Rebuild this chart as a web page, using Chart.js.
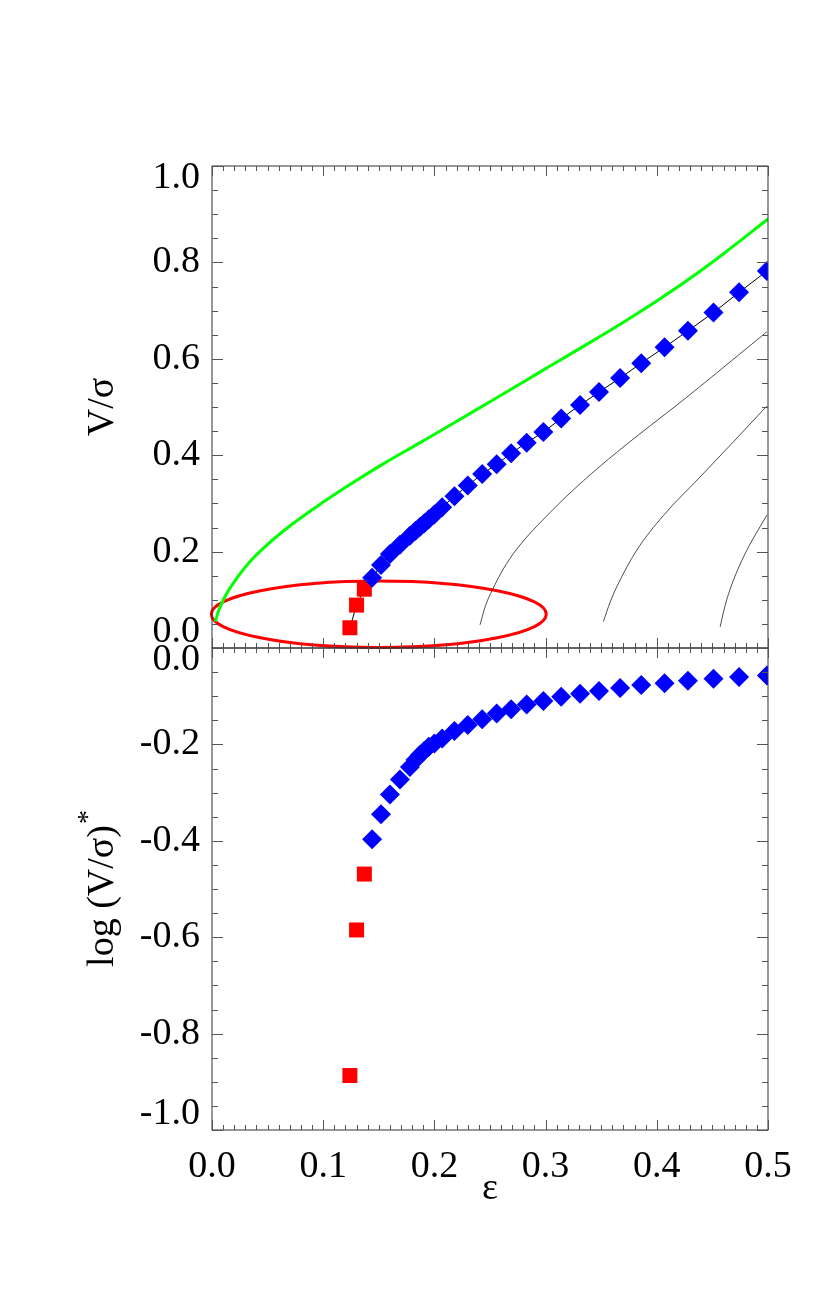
<!DOCTYPE html>
<html>
<head>
<meta charset="utf-8">
<script src="https://cdn.jsdelivr.net/npm/chart.js@4.4.0/dist/chart.umd.min.js"></script>
<style>
  html, body { margin: 0; padding: 0; background: #fff; }
  #wrap { width: 830px; height: 1298px; }
</style>
</head>
<body>
<div id="wrap"><canvas id="chart" width="830" height="1298"></canvas></div>
<script>
// values
const squareEps = [0.124, 0.130, 0.137];
const squareVs = [0.042, 0.089, 0.122];
const squareLogVs = [-0.887, -0.585, -0.469];

const diamondEps = [0.144, 0.152, 0.160, 0.169, 0.178, 0.183, 0.187, 0.191, 0.195, 0.200,
  0.207, 0.218, 0.230, 0.243, 0.256, 0.269, 0.283, 0.298, 0.314, 0.331,
  0.348, 0.367, 0.386, 0.407, 0.428, 0.451, 0.474, 0.499];
const diamondVs = [0.146, 0.172, 0.195, 0.214, 0.233, 0.243, 0.251, 0.259, 0.267, 0.277,
  0.292, 0.315, 0.337, 0.361, 0.381, 0.404, 0.426, 0.448, 0.476, 0.504,
  0.531, 0.560, 0.591, 0.624, 0.658, 0.696, 0.738, 0.782];
const diamondLogVs = [-0.397, -0.345, -0.304, -0.273, -0.247, -0.232, -0.222, -0.213, -0.205, -0.198,
  -0.188, -0.172, -0.160, -0.148, -0.136, -0.127, -0.117, -0.110, -0.101, -0.095,
  -0.089, -0.083, -0.077, -0.073, -0.068, -0.064, -0.060, -0.057];

// green curve
const isoEps = [0.003, 0.006, 0.013, 0.024, 0.034, 0.050, 0.070, 0.094, 0.124, 0.154, 0.184,
  0.214, 0.250, 0.280, 0.304, 0.340, 0.370, 0.400, 0.430, 0.460, 0.500];
const isoVs = [0.055, 0.078, 0.112, 0.150, 0.179, 0.215, 0.253, 0.293, 0.339, 0.382, 0.422,
  0.462, 0.511, 0.552, 0.585, 0.634, 0.676, 0.720, 0.767, 0.818, 0.890];

// thin black curves
const curve1Eps = [0.241, 0.246, 0.252, 0.262, 0.274, 0.304, 0.334, 0.364, 0.394, 0.423, 0.454, 0.499];
const curve1Vs = [0.048, 0.088, 0.120, 0.164, 0.205, 0.281, 0.347, 0.406, 0.461, 0.513, 0.571, 0.656];
const curve2Eps = [0.352, 0.358, 0.364, 0.382, 0.406, 0.439, 0.469, 0.499];
const curve2Vs = [0.055, 0.095, 0.127, 0.203, 0.275, 0.355, 0.428, 0.502];
const curve3Eps = [0.457, 0.460, 0.4646, 0.478, 0.499];
const curve3Vs = [0.044, 0.075, 0.113, 0.189, 0.276];

// red ellipse (centre and half axes, data units)
const ellipseCenter = [0.150, 0.070];
const ellipseRadius = [0.1506, 0.069];

// tick labels
const vTicks = [0.0, 0.2, 0.4, 0.6, 0.8, 1.0];
const vTickLabels = ["0.0", "0.2", "0.4", "0.6", "0.8", "1.0"];
const logTicks = [-1.0, -0.8, -0.6, -0.4, -0.2, 0.0];
const logTickLabels = ["-1.0", "-0.8", "-0.6", "-0.4", "-0.2", "0.0"];

const FONT = "'Liberation Serif', 'Times New Roman', serif";

const toPoints = (xs, ys) => xs.map((x, i) => ({x: x, y: ys[i]}));

// IDL style box: frame, inward minor/major ticks, y labels and titles
const idlFrame = {
  id: 'idlFrame',
  beforeDatasetsDraw(chart) {
    const ctx = chart.ctx;
    const xs = chart.scales.x, ys = chart.scales.y;
    const cx = xs.getPixelForValue(ellipseCenter[0]);
    const cy = ys.getPixelForValue(ellipseCenter[1]);
    const rx = xs.getPixelForValue(ellipseCenter[0] + ellipseRadius[0]) - cx;
    const ry = cy - ys.getPixelForValue(ellipseCenter[1] + ellipseRadius[1]);
    ctx.save();
    ctx.strokeStyle = '#ff0000';
    ctx.lineWidth = 3;
    ctx.beginPath();
    ctx.ellipse(cx, cy, rx, ry, 0, 0, Math.PI * 2);
    ctx.stroke();
    ctx.restore();
  },
  afterDraw(chart) {
    const ctx = chart.ctx;
    const xs = chart.scales.x;
    const panels = [
      {scale: chart.scales.y, ticks: vTicks, labels: vTickLabels},
      {scale: chart.scales.y2, ticks: logTicks, labels: logTickLabels}
    ];
    ctx.save();
    ctx.lineWidth = 1;
    panels.forEach(p => {
      const s = p.scale;
      ctx.strokeStyle = '#333';
      ctx.strokeRect(xs.left, s.top, xs.right - xs.left, s.bottom - s.top);
      ctx.strokeStyle = '#555';
      ctx.beginPath();
      for (let i = 0; i <= 50; i++) {
        const px = Math.round(xs.getPixelForValue(i / 100)) + 0.5;
        const len = i % 10 === 0 ? 10 : 5;
        ctx.moveTo(px, s.top); ctx.lineTo(px, s.top + len);
        ctx.moveTo(px, s.bottom); ctx.lineTo(px, s.bottom - len);
      }
      for (let j = 0; j <= 20; j++) {
        const py = Math.round(s.getPixelForValue(s.min + j * 0.05)) + 0.5;
        const len = j % 4 === 0 ? 11 : 6;
        ctx.moveTo(xs.left, py); ctx.lineTo(xs.left + len, py);
        ctx.moveTo(xs.right, py); ctx.lineTo(xs.right - len, py);
      }
      ctx.stroke();

      ctx.fillStyle = '#000';
      ctx.font = '38px ' + FONT;
      ctx.textAlign = 'right';
      ctx.textBaseline = 'middle';
      p.ticks.forEach((v, k) => {
        let py = s.getPixelForValue(v);
        if (k === p.ticks.length - 1) py += 12;
        if (k === 0) py -= 16;
        ctx.fillText(p.labels[k], xs.left - 12, py);
      });
    });

    // y titles
    const drawTitle = (main, sup, cy) => {
      ctx.save();
      ctx.translate(113, cy);
      ctx.rotate(-Math.PI / 2);
      ctx.textBaseline = 'alphabetic';
      ctx.textAlign = 'left';
      ctx.font = '38px ' + FONT;
      const w1 = ctx.measureText(main).width;
      let w2 = 0;
      if (sup) { ctx.font = '28px ' + FONT; w2 = ctx.measureText(sup).width; }
      const x0 = -(w1 + w2) / 2;
      ctx.font = '38px ' + FONT;
      ctx.fillText(main, x0, 0);
      if (sup) { ctx.font = '28px ' + FONT; ctx.fillText(sup, x0 + w1 + 1, -17); }
      ctx.restore();
    };
    const top = chart.scales.y, bot = chart.scales.y2;
    drawTitle('V/\u03c3', '', (top.top + top.bottom) / 2);
    drawTitle('log (V/\u03c3)', '*', (bot.top + bot.bottom) / 2);
    ctx.restore();
  }
};

const allEps = squareEps.concat(diamondEps);
const allVs = squareVs.concat(diamondVs);

new Chart(document.getElementById('chart'), {
  type: 'scatter',
  data: {
    datasets: [
      {label: 'diamonds top', data: toPoints(diamondEps, diamondVs), yAxisID: 'y', order: 1,
        pointStyle: 'rectRot', pointRadius: 10, backgroundColor: '#0000ff', borderWidth: 0},
      {label: 'squares top', data: toPoints(squareEps, squareVs), yAxisID: 'y', order: 2,
        pointStyle: 'rect', pointRadius: 10.6, backgroundColor: '#ff0000', borderWidth: 0},
      {label: 'diamonds bottom', data: toPoints(diamondEps, diamondLogVs), yAxisID: 'y2', order: 1,
        pointStyle: 'rectRot', pointRadius: 10, backgroundColor: '#0000ff', borderWidth: 0},
      {label: 'squares bottom', data: toPoints(squareEps, squareLogVs), yAxisID: 'y2', order: 2,
        pointStyle: 'rect', pointRadius: 10.6, backgroundColor: '#ff0000', borderWidth: 0},
      {label: 'sequence', data: toPoints(allEps, allVs), yAxisID: 'y', order: 3, showLine: true,
        pointRadius: 0, borderColor: '#000', borderWidth: 1},
      {label: 'model 1', data: toPoints(curve1Eps, curve1Vs), yAxisID: 'y', order: 4, showLine: true,
        cubicInterpolationMode: 'monotone', pointRadius: 0, borderColor: '#222', borderWidth: 0.8},
      {label: 'model 2', data: toPoints(curve2Eps, curve2Vs), yAxisID: 'y', order: 4, showLine: true,
        cubicInterpolationMode: 'monotone', pointRadius: 0, borderColor: '#222', borderWidth: 0.8},
      {label: 'model 3', data: toPoints(curve3Eps, curve3Vs), yAxisID: 'y', order: 4, showLine: true,
        cubicInterpolationMode: 'monotone', pointRadius: 0, borderColor: '#222', borderWidth: 0.8},
      {label: 'isotropic', data: toPoints(isoEps, isoVs), yAxisID: 'y', order: 5, showLine: true,
        cubicInterpolationMode: 'monotone', pointRadius: 0, borderColor: '#00ff00', borderWidth: 3}
    ]
  },
  options: {
    responsive: false,
    animation: false,
    events: [],
    layout: {padding: {top: 166, right: 62, bottom: 0, left: 0}},
    plugins: {legend: {display: false}, tooltip: {enabled: false}},
    scales: {
      x: {
        type: 'linear', position: 'bottom', min: 0, max: 0.5,
        grid: {display: false, drawTicks: false}, border: {display: false},
        ticks: {stepSize: 0.1, autoSkip: false, padding: 14, color: '#000',
          font: {family: FONT, size: 38}, callback: v => v.toFixed(1)},
        title: {display: true, text: '\u03b5', color: '#000', font: {family: FONT, size: 38},
          padding: {top: 0, bottom: 86}},
        afterFit: s => { s.height = 168; }
      },
      // bottom panel listed first so the layout stacks it below the V/sigma panel
      y2: {
        type: 'linear', position: 'left', stack: 'panels', stackWeight: 1, min: -1, max: 0,
        grid: {display: false, drawTicks: false}, border: {display: false},
        ticks: {display: false},
        afterFit: s => { s.width = 212; }
      },
      y: {
        type: 'linear', position: 'left', stack: 'panels', stackWeight: 1, min: 0, max: 1,
        grid: {display: false, drawTicks: false}, border: {display: false},
        ticks: {display: false},
        afterFit: s => { s.width = 212; }
      }
    }
  },
  plugins: [idlFrame]
});
</script>
</body>
</html>
